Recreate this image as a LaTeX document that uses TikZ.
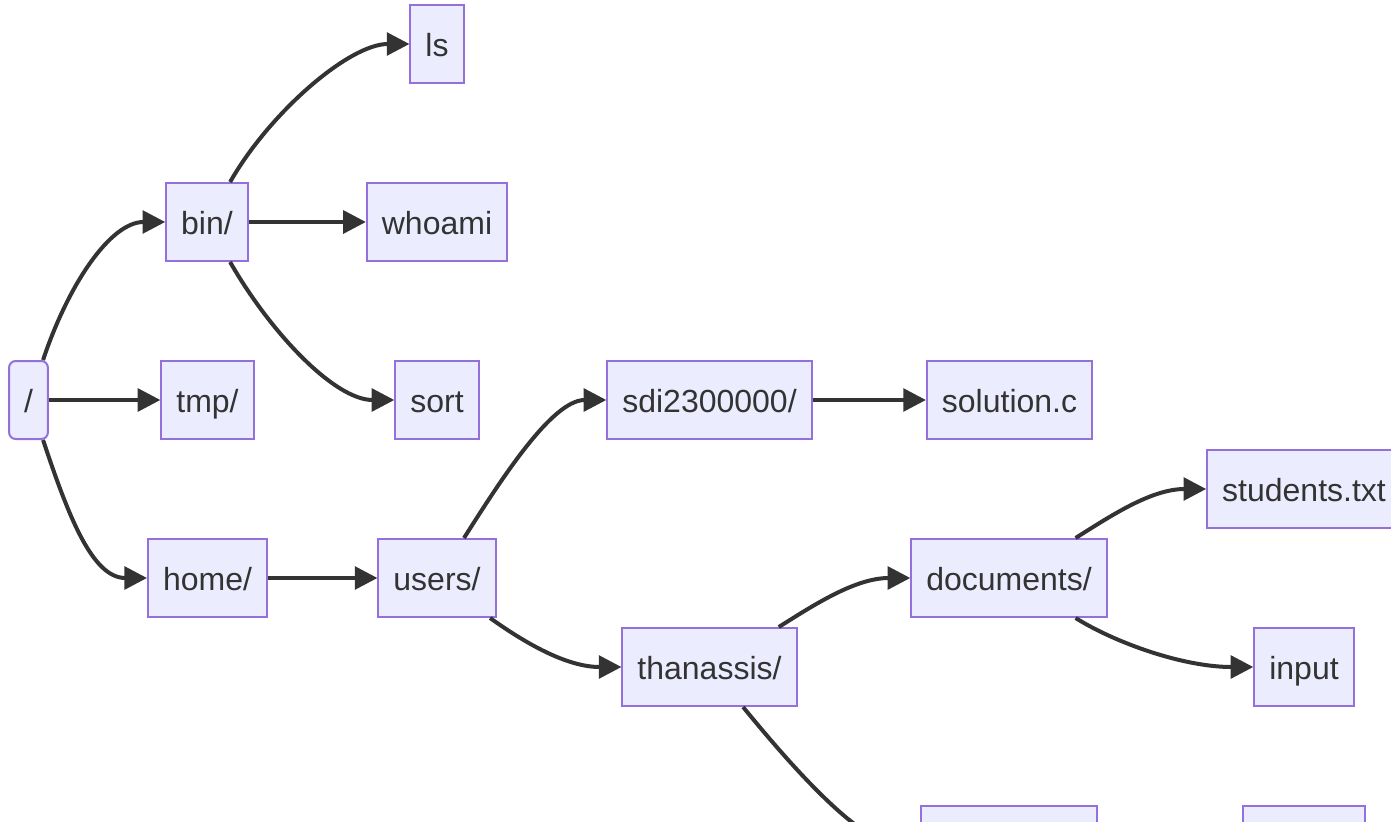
\documentclass[tikz,border=0pt]{standalone}
\usepackage{fontspec}
\setmainfont{Liberation Sans}
\usetikzlibrary{arrows.meta}
\definecolor{nodefill}{HTML}{ECECFF}
\definecolor{nodeline}{HTML}{9370DB}
\definecolor{edgeline}{HTML}{333333}

\begin{document}
\begin{tikzpicture}[x=0.75pt,y=-0.75pt,>={Triangle[length=17pt,width=17pt]},
  dir/.style={draw=nodeline,fill=nodefill,line width=1.5pt,minimum height=58.5pt,
    inner xsep=11.25pt,inner ysep=0pt,text height=20pt,text depth=2pt,
    text=edgeline,font=\fontsize{24}{28}\selectfont},
  link/.style={->,draw=edgeline,line width=3pt}]
\useasboundingbox (0,0) rectangle (1391,821);
\clip (0,0) rectangle (1391,821);
% directory tree
\node[dir,rounded corners=5pt] (root) at (28.5,400) {/};
\node[dir] (bin) at (207,222) {bin/};
\node[dir] (tmp) at (207.5,400) {tmp/};
\node[dir] (home) at (207.5,578) {home/};
\node[dir] (ls) at (437,44) {ls};
\node[dir] (whoami) at (437,222) {whoami};
\node[dir] (sort) at (437,400) {sort};
\node[dir] (users) at (437,578) {users/};
\node[dir] (sdi) at (709.5,400) {sdi2300000/};
\node[dir] (thanassis) at (709.5,667) {thanassis/};
\node[dir] (solution) at (1009.5,400) {solution.c};
\node[dir] (documents) at (1009,578) {documents/};
\node[dir] (students) at (1304,489) {students.txt};
\node[dir] (input) at (1304,667) {input};
\node[dir,minimum width=132pt] (lowleft) at (1009,845) {};
\node[dir,minimum width=91.5pt] (lowright) at (1304,845) {};
% connections
\draw[link] (root.70) .. controls +(25,-75) and +(-55,0) .. (bin.west);
\draw[link] (root) -- (tmp);
\draw[link] (root.-70) .. controls +(25,75) and +(-55,0) .. (home.west);
\draw[link] (bin.60) .. controls +(40,-70) and +(-60,0) .. (ls.west);
\draw[link] (bin) -- (whoami);
\draw[link] (bin.-60) .. controls +(40,70) and +(-60,0) .. (sort.west);
\draw[link] (home) -- (users);
\draw[link] (users.56) .. controls +(35,-55) and +(-55,0) .. (sdi.west);
\draw[link] (users.-37) .. controls +(35,25) and +(-55,0) .. (thanassis.west);
\draw[link] (sdi) -- (solution);
\draw[link] (thanassis.30) .. controls +(35,-22) and +(-55,0) .. (documents.west);
\draw[link] (thanassis.-50) .. controls +(45,55) and +(-60,0) .. (lowleft.west);
\draw[link] (documents.31) .. controls +(35,-22) and +(-55,0) .. (students.west);
\draw[link] (documents.-31) .. controls +(40,25) and +(-70,0) .. (input.west);
\end{tikzpicture}
\end{document}
